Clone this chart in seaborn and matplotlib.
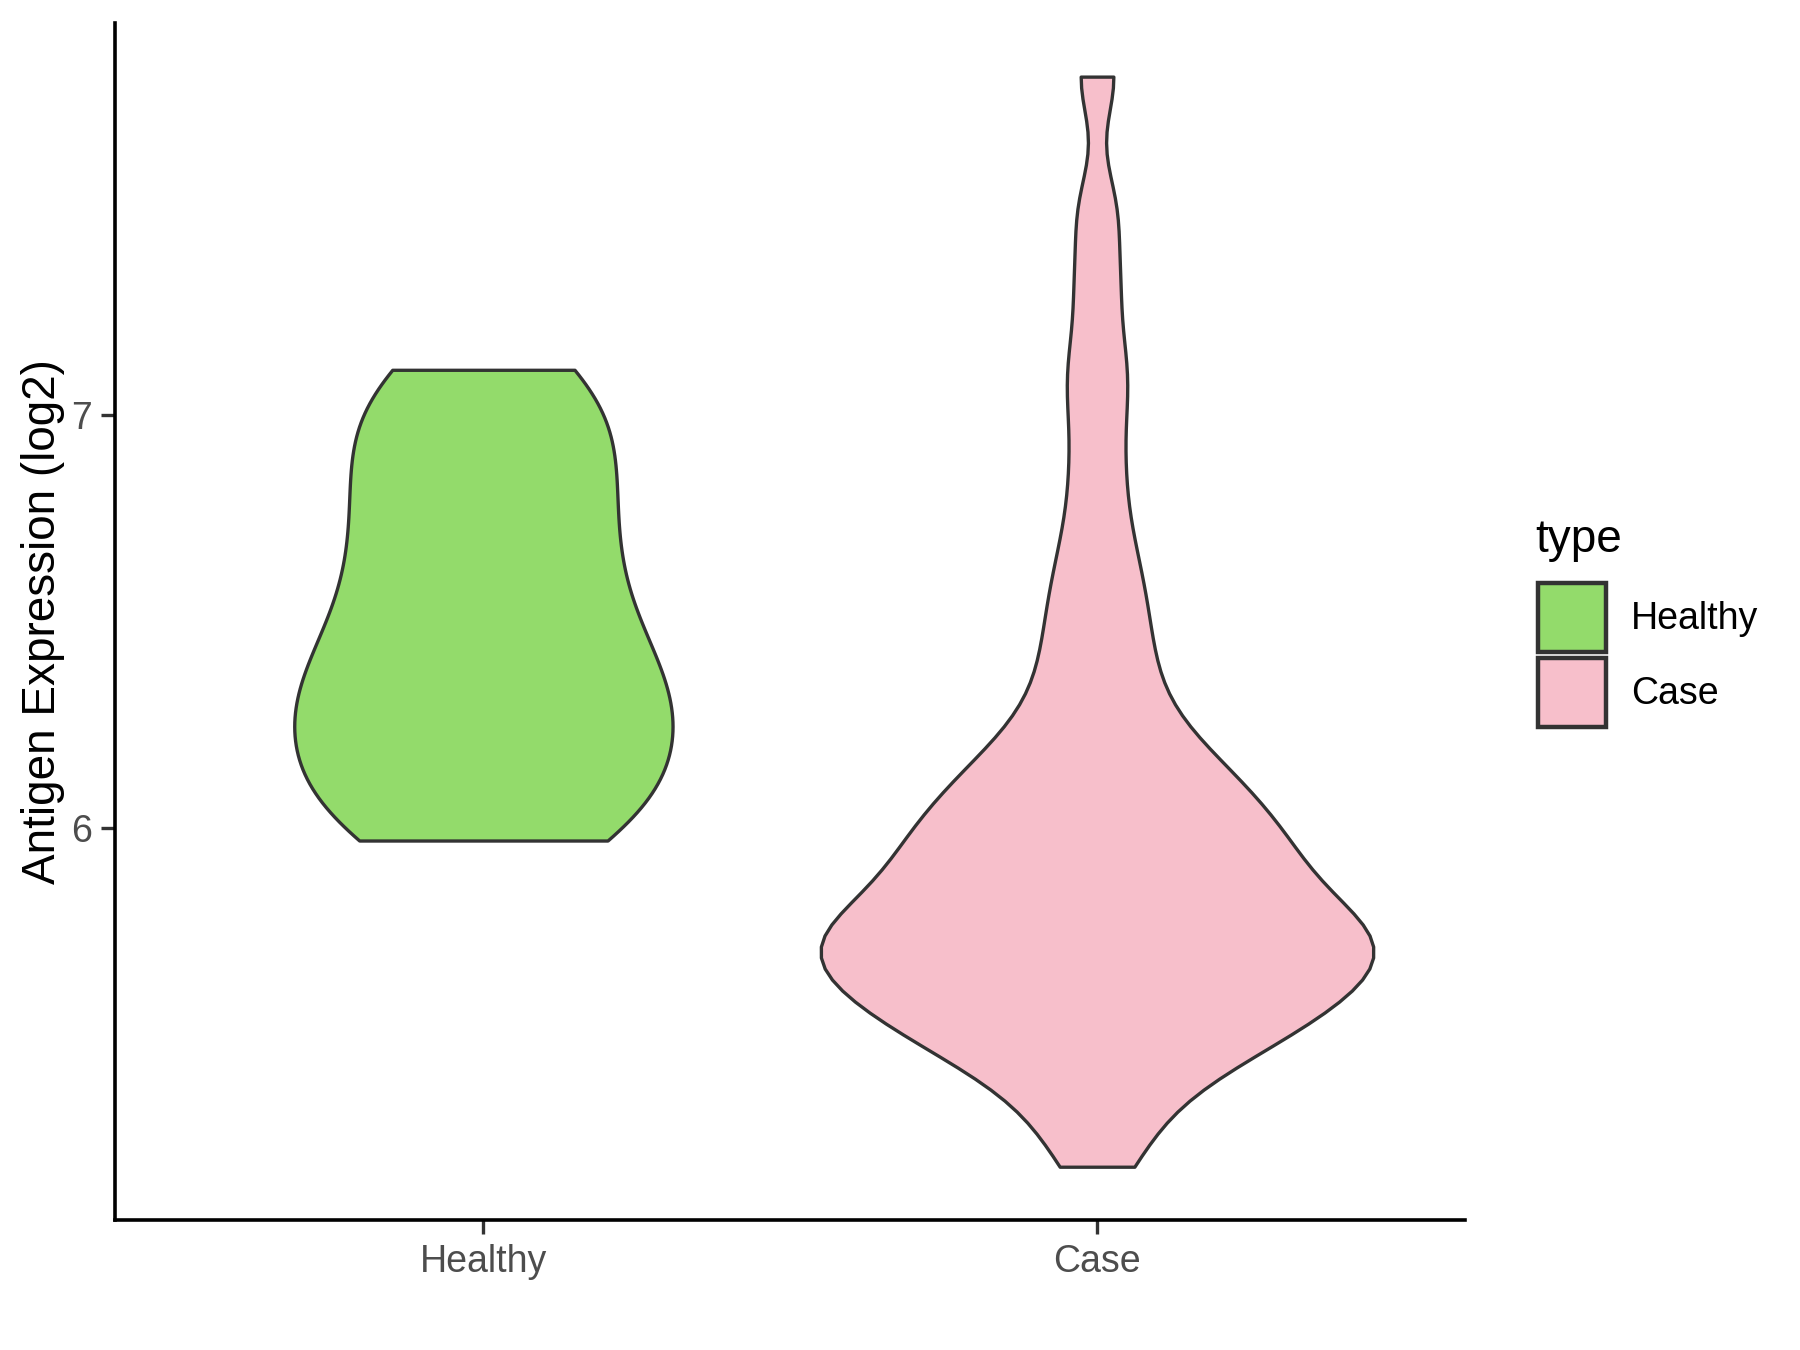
import numpy as np
import pandas as pd
import matplotlib
matplotlib.use("Agg")
import matplotlib.pyplot as plt
import seaborn as sns
from matplotlib.patches import Patch

# ---------- DATA ----------
groups = ["Healthy", "Case"]
healthy_vals = [5.97, 6.00, 6.06, 6.13, 6.20, 6.26, 6.31, 6.36, 6.43, 6.51,
                6.60, 6.69, 6.78, 6.87, 6.96, 7.05, 7.11]
case_vals = [5.18, 5.26, 5.33, 5.38,
             5.42, 5.45, 5.47, 5.49,
             5.51, 5.53, 5.55, 5.57, 5.58, 5.59,
             5.61, 5.63, 5.64, 5.66, 5.67, 5.69, 5.70, 5.71,
             5.72, 5.73, 5.74, 5.76, 5.77, 5.79, 5.80, 5.82, 5.84,
             5.86, 5.88, 5.90, 5.92, 5.94, 5.96, 5.98, 5.99,
             6.02, 6.05, 6.07, 6.09, 6.12, 6.15, 6.18, 6.22, 6.27,
             6.33, 6.40, 6.47, 6.55, 6.63, 6.74, 6.88,
             7.03, 7.15, 7.32, 7.50, 7.82]
colors = {"Healthy": "#93DB6B", "Case": "#F7BFCB"}
# per-group kde bandwidth (in data units) and relative max width (area scaling)
bw = {"Healthy": 0.16, "Case": 0.10}
rel_width = {"Healthy": 0.685, "Case": 1.0}

df = pd.DataFrame({
    "type": ["Healthy"] * len(healthy_vals) + ["Case"] * len(case_vals),
    "value": healthy_vals + case_vals,
})

# ---------- STYLE ----------
sns.set_style("white")
plt.rcParams["font.family"] = ["Liberation Sans", "DejaVu Sans"]

fig = plt.figure(figsize=(9, 6.75), dpi=200)
ax = fig.add_axes([0.064, 0.096, 0.75, 0.887])

for g in groups:
    sub = df[df["type"] == g]
    sns.violinplot(data=sub, x="type", y="value", order=groups,
                   hue="type", hue_order=groups, palette=colors, cut=0,
                   inner=None, width=0.9 * rel_width[g], linewidth=1.2,
                   linecolor="#333333", bw_method=bw[g] / sub["value"].std(),
                   saturation=1, legend=False, ax=ax)

ax.set_xlim(-0.6, 1.6)
ax.set_ylim(5.05, 7.95)
ax.set_yticks([6, 7])
ax.set_yticklabels(["6", "7"])
ax.set_xlabel("")
ax.set_ylabel("Antigen Expression (log2)", fontsize=16.5, color="black", labelpad=2)
ax.tick_params(axis="both", labelsize=13.5, labelcolor="#4D4D4D",
               color="#333333", length=5, width=1.2, left=True, bottom=True)
for s in ["top", "right"]:
    ax.spines[s].set_visible(False)
for s in ["left", "bottom"]:
    ax.spines[s].set_color("black")
    ax.spines[s].set_linewidth(1.3)

# legend
fig.text(0.853, 0.600, "type", fontsize=16.5, color="black", ha="left", va="center")
handles = [Patch(facecolor=colors[g], edgecolor="#333333", linewidth=1.6, label=g)
           for g in groups]
leg = fig.legend(handles=handles, loc="upper left",
                 bbox_to_anchor=(0.8545, 0.568), frameon=False, fontsize=13.5,
                 handlelength=1.8, handleheight=2.45,
                 handletextpad=0.67, labelspacing=0.15, borderpad=0,
                 borderaxespad=0)
for t in leg.get_texts():
    t.set_color("black")

fig.savefig("out.png", dpi=200)
